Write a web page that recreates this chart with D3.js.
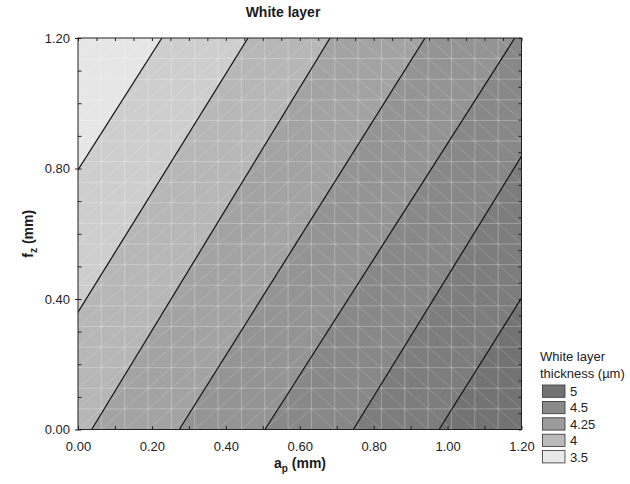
<!DOCTYPE html>
<html>
<head>
<meta charset="utf-8">
<script src="https://cdn.jsdelivr.net/npm/d3@7"></script>
<style>
  html, body { margin: 0; padding: 0; background: #fff; }
  svg { display: block; font-family: "Liberation Sans", Arial, Helvetica, sans-serif; }
</style>
</head>
<body>
<svg id="chart" width="630" height="484"></svg>
<script>
// ---- data ----
// contour levels (white layer thickness, µm)
const levels = [3.5, 3.75, 4.0, 4.25, 4.5, 4.75, 5.0];
// each contour line is straight: a_p where it meets f_z = 0 and f_z = 1.2
const lineApAtFzMin = [-0.447, -0.197, 0.037, 0.274, 0.506, 0.745, 0.977];
const lineApAtFzMax = [0.227, 0.460, 0.682, 0.939, 1.182, 1.397, 1.641];
// fill of the bands, from lowest thickness (top-left) to highest (bottom-right)
const bandColors = ["#e6e6e6", "#cecece", "#b7b7b7", "#a3a3a3", "#949494", "#888888", "#7d7d7d", "#737373"];
// legend
const legendLabels = ["5", "4.5", "4.25", "4", "3.5"];
const legendColors = ["#727272", "#8a8a8a", "#9c9c9c", "#bababa", "#e8e8e8"];
// axes
const xTickLabels = [0, 0.2, 0.4, 0.6, 0.8, 1.0, 1.2];
const yTickLabels = [0, 0.4, 0.8, 1.2];
const apDomain = [0, 1.2];
const fzDomain = [0, 1.2];

// ---- layout ----
const svg = d3.select("#chart");
const L = 78, R = 521.5, T = 38, B = 429.5;
const x = d3.scaleLinear().domain(apDomain).range([L, R]);
const y = d3.scaleLinear().domain(fzDomain).range([B, T]);

svg.append("defs").append("clipPath").attr("id", "plotClip")
  .append("rect").attr("x", L).attr("y", T).attr("width", R - L).attr("height", B - T);

const plot = svg.append("g").attr("clip-path", "url(#plotClip)");

// bands between consecutive contour lines
const far = 10;
const nb = levels.length + 1;
for (let i = 0; i < nb; i++) {
  let leftLow, leftHigh, rightLow, rightHigh;
  if (i === 0) { leftLow = -far; leftHigh = -far; }
  else { leftLow = lineApAtFzMin[i - 1]; leftHigh = lineApAtFzMax[i - 1]; }
  if (i === nb - 1) { rightLow = far; rightHigh = far; }
  else { rightLow = lineApAtFzMin[i]; rightHigh = lineApAtFzMax[i]; }
  const poly = [[leftLow, fzDomain[0]], [leftHigh, fzDomain[1]], [rightHigh, fzDomain[1]], [rightLow, fzDomain[0]]];
  plot.append("path")
    .attr("d", d3.line().x(d => x(d[0])).y(d => y(d[1]))(poly) + "Z")
    .attr("fill", bandColors[i]).attr("stroke", bandColors[i]).attr("stroke-width", 0.5);
}

// triangulated mesh (light)
const nCells = 19;
const mesh = plot.append("g").attr("stroke", "#ffffff").attr("fill", "none");
const cw = (apDomain[1] - apDomain[0]) / nCells, ch = (fzDomain[1] - fzDomain[0]) / nCells;
for (let k = 1; k < nCells; k++) {
  mesh.append("line").attr("x1", x(k * cw)).attr("x2", x(k * cw)).attr("y1", T).attr("y2", B)
    .attr("stroke-opacity", 0.3).attr("stroke-width", 0.9);
  mesh.append("line").attr("y1", y(k * ch)).attr("y2", y(k * ch)).attr("x1", L).attr("x2", R)
    .attr("stroke-opacity", 0.3).attr("stroke-width", 0.9);
}
for (let c = 0; c < nCells; c++) {
  for (let r = 0; r < nCells; r++) {
    const a0 = c * cw, a1 = (c + 1) * cw, f0 = r * ch, f1 = (r + 1) * ch;
    const up = c < 10;
    mesh.append("line")
      .attr("x1", x(a0)).attr("y1", y(up ? f0 : f1))
      .attr("x2", x(a1)).attr("y2", y(up ? f1 : f0))
      .attr("stroke-opacity", 0.3).attr("stroke-width", 0.6);
  }
}

// contour lines
levels.forEach((lv, i) => {
  plot.append("line")
    .attr("x1", x(lineApAtFzMin[i])).attr("y1", y(fzDomain[0]))
    .attr("x2", x(lineApAtFzMax[i])).attr("y2", y(fzDomain[1]))
    .attr("stroke", "#111").attr("stroke-width", 1.2);
});

// frame
svg.append("rect").attr("x", L).attr("y", T).attr("width", R - L).attr("height", B - T)
  .attr("fill", "none").attr("stroke", "#222").attr("stroke-width", 1);

// ---- axes ----
const fmt = d3.format(".2f");
const styleAxis = g => {
  g.select(".domain").remove();
  g.selectAll(".tick line").attr("stroke", "#222");
  g.selectAll("text").attr("fill", "#222").attr("font-size", 13);
};

// bottom labels + minor ticks every 0.1
svg.append("g").attr("transform", `translate(0,${B})`)
  .call(d3.axisBottom(x).tickValues(d3.range(0, 1.2001, 0.1)).tickSizeInner(-3.5).tickSizeOuter(0).tickFormat(""))
  .call(styleAxis);
svg.append("g").attr("transform", `translate(0,${B})`)
  .call(d3.axisBottom(x).tickValues(xTickLabels).tickSize(0).tickPadding(12).tickFormat(fmt))
  .call(styleAxis);

// left labels + ticks every 0.1, major ticks crossing
svg.append("g").attr("transform", `translate(${L},0)`)
  .call(d3.axisLeft(y).tickValues(d3.range(0, 1.2001, 0.1)).tickSizeInner(-3.5).tickSizeOuter(0).tickFormat(""))
  .call(styleAxis);
svg.append("g").attr("transform", `translate(${L},0)`)
  .call(d3.axisLeft(y).tickValues(yTickLabels).tickSizeInner(3).tickSizeOuter(0).tickPadding(5).tickFormat(fmt))
  .call(styleAxis);

// top and right ticks every 0.05
svg.append("g").attr("transform", `translate(0,${T})`)
  .call(d3.axisTop(x).tickValues(d3.range(0, 1.2001, 0.05)).tickSizeInner(-3).tickSizeOuter(0).tickFormat(""))
  .call(styleAxis);
svg.append("g").attr("transform", `translate(${R},0)`)
  .call(d3.axisRight(y).tickValues(d3.range(0, 1.2001, 0.05)).tickSizeInner(-3).tickSizeOuter(0).tickFormat(""))
  .call(styleAxis);

// ---- titles ----
svg.append("text").attr("x", 283).attr("y", 17).attr("text-anchor", "middle")
  .attr("font-size", 14).attr("font-weight", "bold").attr("fill", "#1a1a1a").text("White layer");

const xl = svg.append("text").attr("x", 300).attr("y", 468).attr("text-anchor", "middle")
  .attr("font-size", 14).attr("font-weight", "bold").attr("fill", "#1a1a1a");
xl.append("tspan").text("a");
xl.append("tspan").attr("font-size", 10).attr("dy", 4).text("p");
xl.append("tspan").attr("dy", -4).text(" (mm)");

const yl = svg.append("text").attr("transform", `translate(33,${(T + B) / 2}) rotate(-90)`)
  .attr("text-anchor", "middle").attr("font-size", 14).attr("font-weight", "bold").attr("fill", "#1a1a1a");
yl.append("tspan").text("f");
yl.append("tspan").attr("font-size", 10).attr("dy", 4).text("z");
yl.append("tspan").attr("dy", -4).text(" (mm)");

// ---- legend ----
const lg = svg.append("g");
lg.append("text").attr("x", 540).attr("y", 361).attr("font-size", 13).attr("fill", "#222").text("White layer");
lg.append("text").attr("x", 540).attr("y", 377.5).attr("font-size", 13).attr("fill", "#222").text("thickness (\u00B5m)");
legendLabels.forEach((lab, i) => {
  const yy = 385 + i * 16.4;
  lg.append("rect").attr("x", 542.5).attr("y", yy).attr("width", 22.5).attr("height", 12.3)
    .attr("fill", legendColors[i]).attr("stroke", "#333").attr("stroke-width", 0.8);
  lg.append("text").attr("x", 570).attr("y", yy + 11).attr("font-size", 13).attr("fill", "#222").text(lab);
});
</script>
</body>
</html>
